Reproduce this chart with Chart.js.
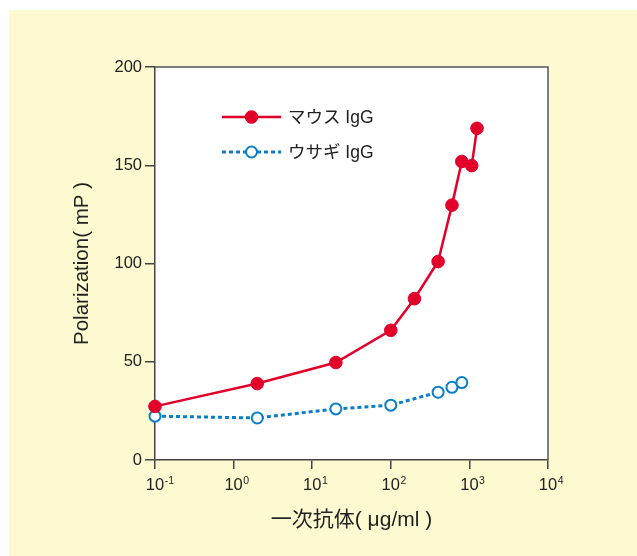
<!DOCTYPE html>
<html lang="ja">
<head>
  <meta charset="UTF-8" />
  <title>Polarization vs 一次抗体</title>
  <script src="https://cdn.jsdelivr.net/npm/chart.js"></script>
  <style>
    body {
      margin: 0;
      background: #fff;
    }
    #wrap {
      position: relative;
      width: 637px;
      height: 556px;
    }
    #paper {
      position: absolute;
      left: 9px;
      top: 10px;
      right: 0;
      bottom: 0;
      background: #fdf9d0;
    }
    #chart {
      position: absolute;
      left: 0;
      top: 0;
    }
  </style>
</head>
<body>
  <div id="wrap">
    <div id="paper"></div>
    <canvas id="chart" width="637" height="556"></canvas>
  </div>

  <script>
    // data
    const mouseConc = [0.1, 2, 20, 100, 200, 400, 600, 800, 1070, 1250];
    const mouseValues = [27.3, 38.9, 49.6, 66.0, 82.1, 101.0, 129.7, 151.9, 149.8, 168.8];
    const rabbitConc = [0.1, 2, 20, 100, 400, 600, 800];
    const rabbitValues = [22.3, 21.4, 26.0, 27.9, 34.5, 37.0, 39.4];

    const seriesLabels = ['マウス IgG', 'ウサギ IgG'];
    const xTickValues = [0.1, 1, 10, 100, 1000, 10000];
    const xTickExponents = ['-1', '0', '1', '2', '3', '4'];
    const yTickStep = 50;

    const FONT = '"Liberation Sans", "Noto Sans CJK JP", sans-serif';
    const RED = '#e2002b';
    const BLUE = '#0a7fc8';
    const AXIS = '#444';

    Chart.defaults.font.family = FONT;
    Chart.defaults.color = '#222';

    const toPoints = (xs, ys) => xs.map((x, i) => ({ x: x, y: ys[i] }));

    // white plot area + frame on top/right
    const plotBox = {
      id: 'plotBox',
      beforeDraw(chart) {
        const a = chart.chartArea;
        const ctx = chart.ctx;
        ctx.save();
        ctx.fillStyle = '#fff';
        ctx.fillRect(a.left, a.top, a.right - a.left, a.bottom - a.top);
        ctx.restore();
      },
      beforeDatasetsDraw(chart) {
        const a = chart.chartArea;
        const ctx = chart.ctx;
        ctx.save();
        ctx.strokeStyle = '#555';
        ctx.lineWidth = 1.5;
        ctx.beginPath();
        ctx.moveTo(a.left, a.top);
        ctx.lineTo(a.right, a.top);
        ctx.lineTo(a.right, a.bottom);
        ctx.stroke();
        ctx.restore();
      }
    };

    // x tick labels as 10 with a raised exponent
    const powerLabels = {
      id: 'powerLabels',
      afterDraw(chart) {
        const sx = chart.scales.x;
        const ctx = chart.ctx;
        const y = chart.chartArea.bottom + 30;
        ctx.save();
        ctx.fillStyle = '#222';
        ctx.textBaseline = 'alphabetic';
        xTickValues.forEach((v, i) => {
          const px = sx.getPixelForValue(v);
          ctx.font = '16.5px ' + FONT;
          ctx.textAlign = 'center';
          ctx.fillText('10', px, y);
          const w = ctx.measureText('10').width;
          ctx.font = '10.5px ' + FONT;
          ctx.textAlign = 'left';
          ctx.fillText(xTickExponents[i], px + w / 2 + 0.5, y - 6);
        });
        ctx.restore();
      }
    };

    // legend inside the plot: line + marker + label
    const innerLegend = {
      id: 'innerLegend',
      afterDatasetsDraw(chart) {
        const a = chart.chartArea;
        const ctx = chart.ctx;
        const x0 = a.left + 67, x1 = a.left + 126, xm = a.left + 96.5;
        chart.data.datasets.forEach((ds, i) => {
          const y = a.top + 50 + i * 35;
          ctx.save();
          ctx.strokeStyle = ds.borderColor;
          ctx.lineWidth = ds.borderWidth;
          ctx.setLineDash(ds.borderDash || []);
          ctx.beginPath();
          ctx.moveTo(x0, y);
          ctx.lineTo(x1, y);
          ctx.stroke();
          ctx.setLineDash([]);
          ctx.beginPath();
          ctx.arc(xm, y, ds.pointRadius, 0, Math.PI * 2);
          ctx.fillStyle = ds.pointBackgroundColor;
          ctx.fill();
          ctx.lineWidth = ds.pointBorderWidth;
          ctx.strokeStyle = ds.pointBorderColor;
          ctx.stroke();
          ctx.fillStyle = '#222';
          ctx.font = '17.5px ' + FONT;
          ctx.textAlign = 'left';
          ctx.textBaseline = 'middle';
          ctx.fillText(ds.label, a.left + 133, y + 1);
          ctx.restore();
        });
      }
    };

    const chart = new Chart(document.getElementById('chart'), {
      type: 'line',
      data: {
        datasets: [{
          label: seriesLabels[0],
          data: toPoints(mouseConc, mouseValues),
          borderColor: RED,
          borderWidth: 2.5,
          pointRadius: 6.3,
          pointBackgroundColor: RED,
          pointBorderColor: RED,
          pointBorderWidth: 1,
          tension: 0,
          clip: false
        }, {
          label: seriesLabels[1],
          data: toPoints(rabbitConc, rabbitValues),
          borderColor: BLUE,
          borderWidth: 3,
          borderDash: [4, 3],
          pointRadius: 5.5,
          pointBackgroundColor: '#fff',
          pointBorderColor: BLUE,
          pointBorderWidth: 2,
          tension: 0,
          clip: false
        }]
      },
      options: {
        responsive: false,
        animation: false,
        devicePixelRatio: 1,
        layout: {
          padding: { top: 67, right: 89, left: 0, bottom: 0 }
        },
        plugins: {
          legend: { display: false },
          tooltip: { enabled: false }
        },
        scales: {
          x: {
            type: 'logarithmic',
            min: 0.1,
            max: 10000,
            afterBuildTicks: (axis) => {
              axis.ticks = xTickValues.map(v => ({ value: v }));
            },
            afterFit: (axis) => { axis.height = 96; },
            ticks: { display: false },
            grid: {
              drawOnChartArea: false,
              drawTicks: true,
              tickLength: 9,
              color: AXIS,
              lineWidth: 1.5
            },
            border: { color: AXIS, width: 1.5 },
            title: {
              display: true,
              text: '一次抗体( μg/ml )',
              font: { size: 21 },
              color: '#222',
              padding: { top: 0, bottom: 23 }
            }
          },
          y: {
            min: 0,
            max: 200,
            afterFit: (axis) => { axis.width = 155; },
            ticks: {
              stepSize: yTickStep,
              padding: 3,
              font: { size: 16.5 },
              color: '#222'
            },
            grid: {
              drawOnChartArea: false,
              drawTicks: true,
              tickLength: 10,
              color: AXIS,
              lineWidth: 1.5
            },
            border: { color: AXIS, width: 1.5 },
            title: {
              display: true,
              text: 'Polarization( mP )',
              font: { size: 20.5 },
              color: '#222',
              padding: { top: 70, bottom: 0 }
            }
          }
        }
      },
      plugins: [plotBox, powerLabels, innerLegend]
    });
  </script>
</body>
</html>
